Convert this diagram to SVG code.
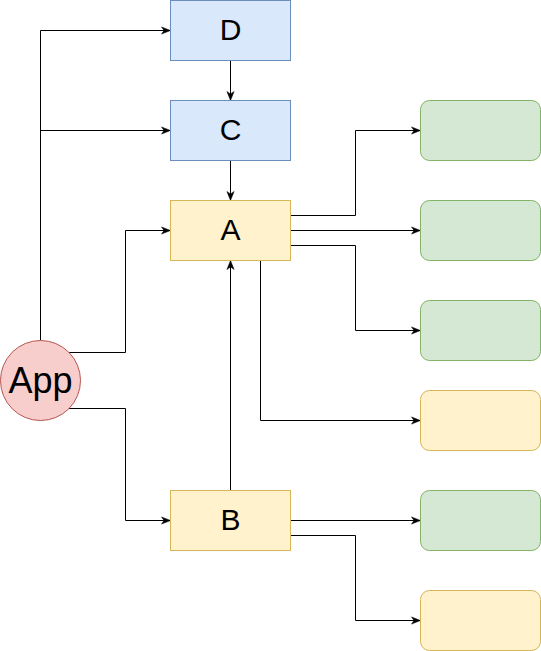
<svg xmlns="http://www.w3.org/2000/svg" width="541" height="651" viewBox="0 0 541 651">
  <style>
    .blue { fill: #dae8fc; stroke: #6c8ebf; stroke-width: 1; }
    .yellow { fill: #fff2cc; stroke: #d6b656; stroke-width: 1; }
    .green { fill: #d5e8d4; stroke: #82b366; stroke-width: 1; }
    .red { fill: #f8cecc; stroke: #b85450; stroke-width: 1; }
    .label { font-family: "Liberation Sans", Arial, sans-serif; font-size: 30px; fill: #000; text-anchor: middle; }
    .big { font-size: 36px; }
    .edge { fill: none; stroke: #000; stroke-width: 1; marker-end: url(#arrow); }
    .plain { fill: none; stroke: #000; stroke-width: 1; }
  </style>
  <defs>
    <marker id="arrow" markerUnits="userSpaceOnUse" markerWidth="10" markerHeight="8" refX="9" refY="4" orient="auto" overflow="visible">
      <path d="M0,0.4 L9,4 L0,7.6 L2.5,4 Z" fill="#000" stroke="#000" stroke-width="0.5" stroke-linejoin="miter"/>
    </marker>
  </defs>

  <!-- connectors -->
  <g id="connectors">
    <path class="edge" d="M40.5,340.5 V30.5 H170.5"/>
    <path class="edge" d="M40.5,130.5 H170.5"/>
    <path class="edge" d="M69,352.5 H125.5 V230.5 H170.5"/>
    <path class="edge" d="M69,408.5 H125.5 V520.5 H170.5"/>
    <path class="edge" d="M230.5,60.5 V100.5"/>
    <path class="edge" d="M230.5,160.5 V200.5"/>
    <path class="edge" d="M230.5,490.5 V260.5"/>
    <path class="edge" d="M290.5,215.5 H355.5 V130.5 H420.5"/>
    <path class="edge" d="M290.5,230.5 H420.5"/>
    <path class="edge" d="M290.5,245.5 H355.5 V330.5 H420.5"/>
    <path class="edge" d="M260.5,260.5 V420.5 H420.5"/>
    <path class="edge" d="M290.5,520.5 H420.5"/>
    <path class="edge" d="M290.5,535.5 H355.5 V620.5 H420.5"/>
  </g>

  <g id="node-D">
    <rect class="blue" x="170.5" y="0.5" width="120" height="60"/>
    <text class="label" x="230.5" y="40">D</text>
  </g>
  <g id="node-C">
    <rect class="blue" x="170.5" y="100.5" width="120" height="60"/>
    <text class="label" x="230.5" y="140">C</text>
  </g>
  <g id="node-A">
    <rect class="yellow" x="170.5" y="200.5" width="120" height="60"/>
    <text class="label" x="230.5" y="240">A</text>
  </g>
  <g id="node-B">
    <rect class="yellow" x="170.5" y="490.5" width="120" height="60"/>
    <text class="label" x="230.5" y="530">B</text>
  </g>
  <g id="node-App">
    <circle class="red" cx="40.5" cy="380.5" r="40"/>
    <text class="label big" x="40.5" y="393">App</text>
  </g>

  <g id="out-1"><rect class="green" x="420.5" y="100.5" width="120" height="60" rx="9" ry="9"/></g>
  <g id="out-2"><rect class="green" x="420.5" y="200.5" width="120" height="60" rx="9" ry="9"/></g>
  <g id="out-3"><rect class="green" x="420.5" y="300.5" width="120" height="60" rx="9" ry="9"/></g>
  <g id="out-4"><rect class="yellow" x="420.5" y="390.5" width="120" height="60" rx="9" ry="9"/></g>
  <g id="out-5"><rect class="green" x="420.5" y="490.5" width="120" height="60" rx="9" ry="9"/></g>
  <g id="out-6"><rect class="yellow" x="420.5" y="590.5" width="120" height="60" rx="9" ry="9"/></g>
</svg>
